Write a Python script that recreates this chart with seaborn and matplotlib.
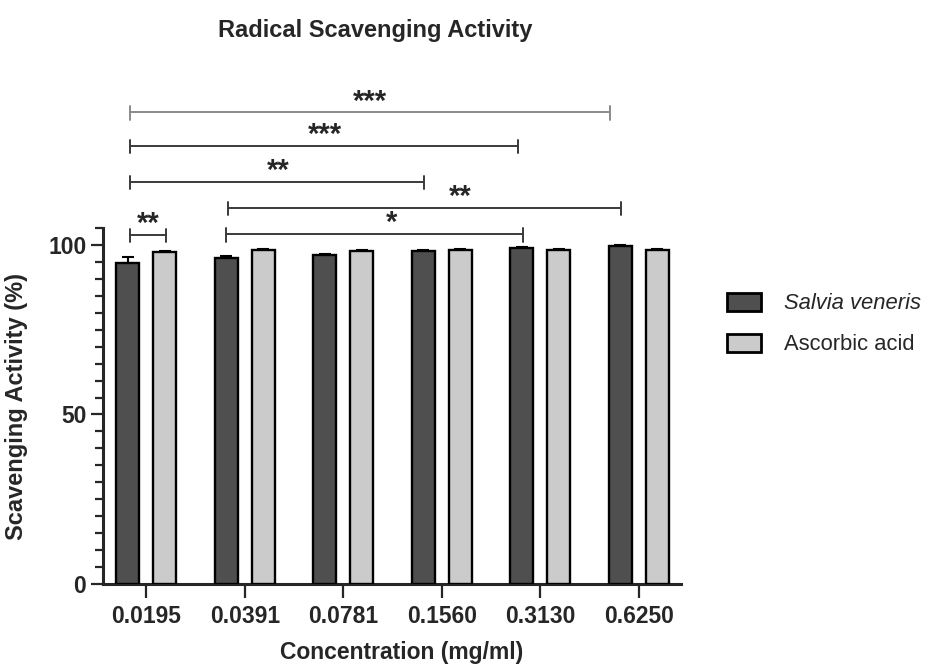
import numpy as np
import pandas as pd
import matplotlib
matplotlib.use("Agg")
import matplotlib.pyplot as plt
import seaborn as sns

# values
concentrations = ['0.0195', '0.0391', '0.0781', '0.1560', '0.3130', '0.6250']
salvia_mean = [94.7, 96.2, 97.1, 98.3, 99.1, 99.8]
salvia_sd = [1.8, 0.5, 0.3, 0.3, 0.3, 0.3]
ascorbic_mean = [97.9, 98.5, 98.3, 98.5, 98.5, 98.5]
ascorbic_sd = [0.3, 0.3, 0.3, 0.3, 0.3, 0.3]
treatments = ['Salvia veneris', 'Ascorbic acid']
significance = ['***', '***', '**', '**', '*', '**']

# bracket layout: (x start, x end, y, label x) in category / data units
bracket_layout = [
    (-0.162, 4.706, 139.1, 2.27),
    (-0.162, 3.773, 129.2, 1.815),
    (-0.162, 2.820, 118.6, 1.34),
    (0.832, 4.817, 110.9, 3.185),
    (0.811, 3.823, 103.2, 2.495),
    (-0.170, 0.203, 103.0, 0.02),
]
bracket_colors = ['#8a8a8a', '#3a3a3a', '#3a3a3a', '#3a3a3a', '#3a3a3a', '#3a3a3a']

df = pd.DataFrame({
    'Concentration': concentrations * 2,
    'Activity': salvia_mean + ascorbic_mean,
    'Treatment': [treatments[0]] * 6 + [treatments[1]] * 6,
})

sns.set_style('ticks')
plt.rcParams['font.family'] = ['Liberation Sans', 'DejaVu Sans']

fig = plt.figure(figsize=(9.29, 6.65), dpi=100)
ax = fig.add_axes([0.1109, 0.1218, 0.6222, 0.5353])

sns.barplot(
    data=df, x='Concentration', y='Activity', hue='Treatment',
    order=concentrations, hue_order=treatments,
    palette=['#4f4f4f', '#cbcbcb'], width=0.75, gap=0.38,
    edgecolor='black', linewidth=1.7, errorbar=None, ax=ax, zorder=3,
)

# error bars (upper only, like the original)
for container, sds in zip(ax.containers, [salvia_sd, ascorbic_sd]):
    for bar, sd in zip(container.patches, sds):
        xc = bar.get_x() + bar.get_width() / 2
        ax.errorbar(xc, bar.get_height(), yerr=[[0], [sd]], fmt='none',
                    ecolor='black', elinewidth=1.5, capsize=4.5, capthick=1.5,
                    zorder=2)

# significance brackets
for (x1, x2, y, lx), lab, col in zip(bracket_layout, significance, bracket_colors):
    ax.plot([x1, x2], [y, y], color=col, lw=1.4, clip_on=False, zorder=4)
    for xe in (x1, x2):
        ax.plot([xe, xe], [y + 1.8, y - 2.2], color=col, lw=1.4,
                clip_on=False, zorder=4)
    ax.annotate(lab, xy=(lx, y), xytext=(0, 2), textcoords='offset points',
                ha='center', va='baseline', fontsize=21, fontweight='bold',
                annotation_clip=False)

ax.set_xlim(-0.44, 5.43)
ax.set_ylim(0, 105)
ax.set_yticks([0, 50, 100])
ax.set_yticks(np.arange(0, 106, 5), minor=True)
ax.tick_params(axis='y', which='major', length=9, width=1.6, pad=3,
               labelsize=16.5)
ax.tick_params(axis='y', which='minor', length=6, width=1.6)
ax.tick_params(axis='x', which='major', length=10, width=1.6, pad=5,
               labelsize=16.5)
for lbl in ax.get_xticklabels() + ax.get_yticklabels():
    lbl.set_fontweight('bold')

for side in ['top', 'right']:
    ax.spines[side].set_visible(False)
for side in ['left', 'bottom']:
    ax.spines[side].set_linewidth(2.2)

ax.set_xlabel('Concentration (mg/ml)', fontsize=16.5, fontweight='bold')
ax.set_ylabel('Scavenging Activity (%)', fontsize=17, fontweight='bold')
ax.xaxis.set_label_coords(0.516, -0.16)
ax.yaxis.set_label_coords(-0.13, 0.5)

fig.text(375 / 929, 1 - 30 / 665, 'Radical Scavenging Activity',
         ha='center', va='center', fontsize=17, fontweight='bold')

handles, labels = ax.get_legend_handles_labels()
ax.get_legend().remove()
leg = fig.legend(handles, labels, loc='upper left',
                 bbox_to_anchor=(727 / 929, 1 - 293 / 665),
                 frameon=False, fontsize=15.8, handlelength=1.55,
                 handleheight=0.85, handletextpad=1.05, labelspacing=0.9,
                 borderpad=0, borderaxespad=0)
leg.get_texts()[0].set_fontstyle('italic')
for h in leg.legend_handles:
    h.set_linewidth(2.0)
    h.set_edgecolor('black')

plt.savefig('out.png', dpi=100)
